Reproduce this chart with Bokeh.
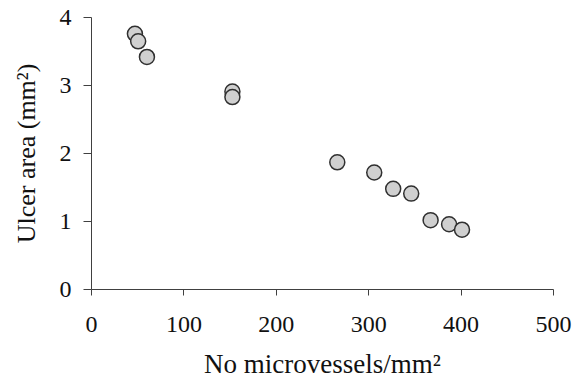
from bokeh.plotting import figure
from bokeh.models import Range1d, FixedTicker
from bokeh.embed import file_html
from bokeh.resources import INLINE

# Data
microvessels = [47, 50.5, 60, 152.5, 152.5, 266, 306, 326.5, 346, 367, 387, 401]
ulcer_area = [3.76, 3.65, 3.42, 2.91, 2.83, 1.87, 1.72, 1.48, 1.41, 1.02, 0.96, 0.88]
x_ticks = [0, 100, 200, 300, 400, 500]
y_ticks = [0, 1, 2, 3, 4]

p = figure(width=586, height=381, output_backend="svg", toolbar_location=None,
           x_range=Range1d(0, 500), y_range=Range1d(0, 4),
           min_border_left=91, min_border_right=33, min_border_top=17, min_border_bottom=92)
p.outline_line_color = None
p.xgrid.visible = False
p.ygrid.visible = False

p.scatter(microvessels, ulcer_area, size=15, fill_color="#d0d0d0",
          line_color="#303030", line_width=1.5)

font = "Liberation Serif"
for ax in (p.xaxis, p.yaxis):
    ax.axis_line_color = "#404040"
    ax.major_tick_line_color = "#404040"
    ax.minor_tick_line_color = None
    ax.major_tick_in = 0
    ax.major_label_text_font = font
    ax.major_label_text_font_size = "24px"
    ax.major_label_text_color = "#111111"
    ax.axis_label_text_font = font
    ax.axis_label_text_font_size = "26px"
    ax.axis_label_text_font_style = "normal"
    ax.axis_label_text_color = "#111111"

p.xaxis.axis_label_text_font_size = "27px"
p.xaxis.ticker = FixedTicker(ticks=x_ticks)
p.yaxis.ticker = FixedTicker(ticks=y_ticks)
p.xaxis.major_tick_out = 6
p.yaxis.major_tick_out = 8
p.xaxis.major_label_standoff = 21
p.yaxis.major_label_standoff = 12
p.xaxis.axis_label = "No microvessels/mm²"
p.yaxis.axis_label = "Ulcer area (mm²)"
p.xaxis.axis_label_standoff = 14
p.yaxis.axis_label_standoff = 16

open("out.html", "w").write(file_html(p, INLINE))
